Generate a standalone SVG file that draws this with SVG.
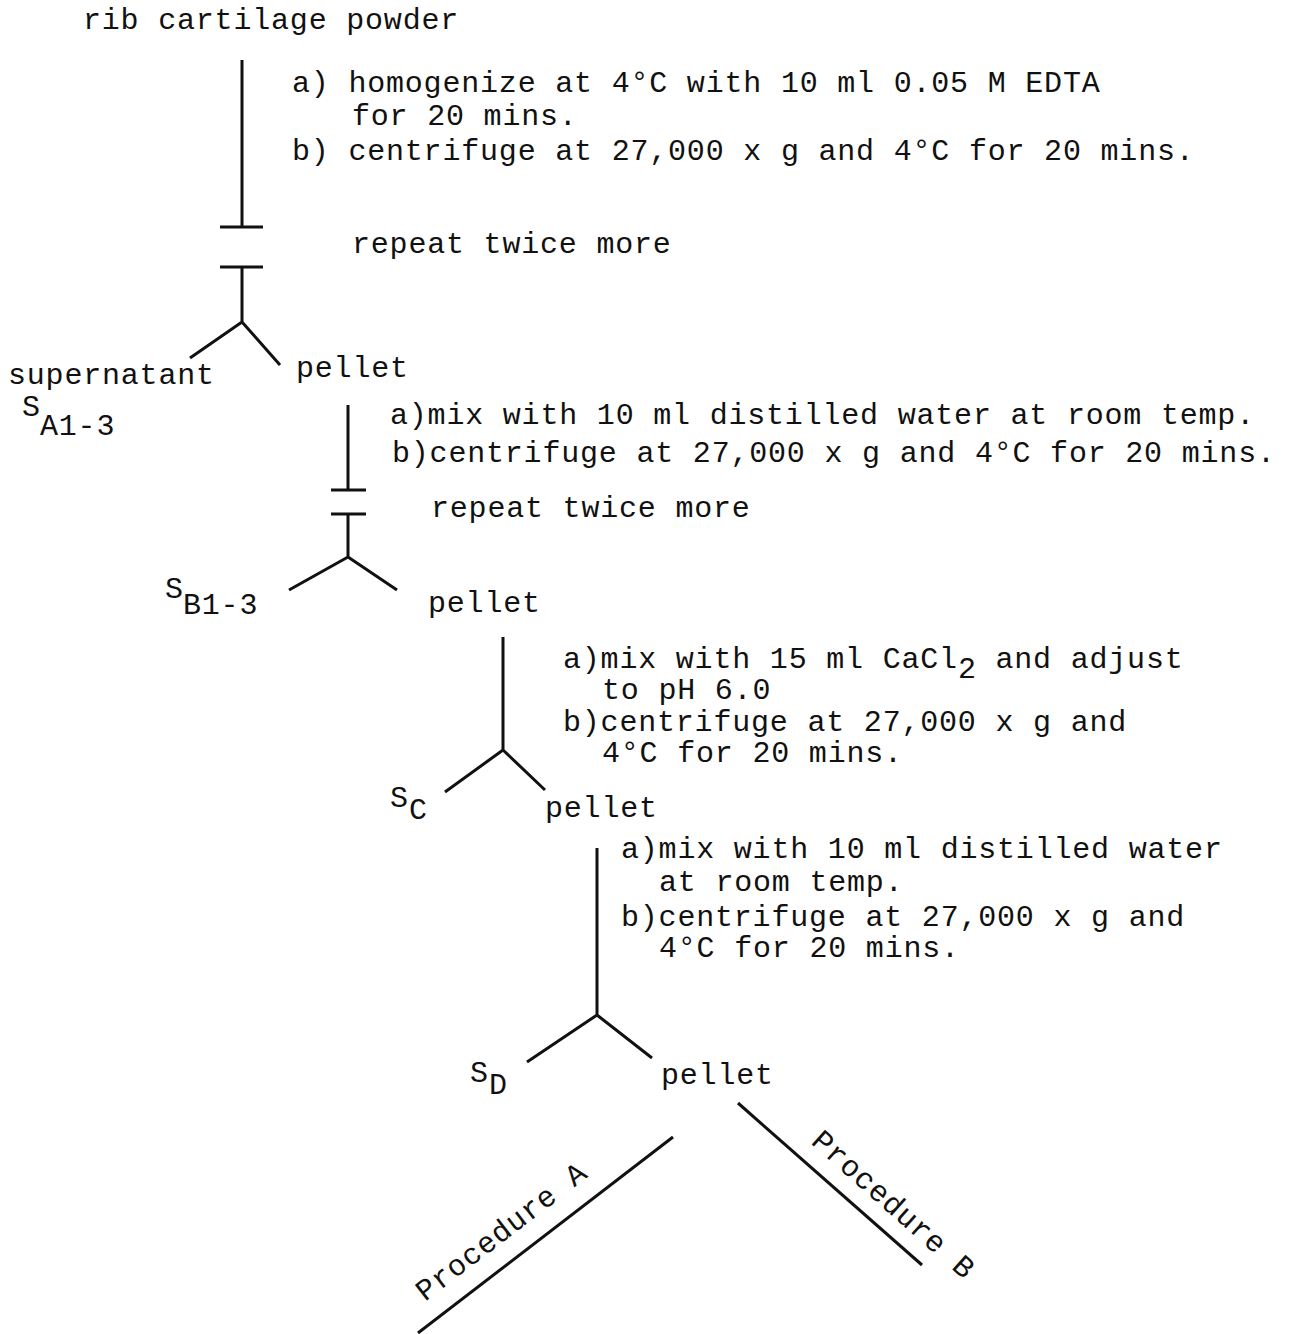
<svg xmlns="http://www.w3.org/2000/svg" width="1295" height="1334" viewBox="0 0 1295 1334">
<style>
text{font-family:"Liberation Mono","DejaVu Sans Mono",monospace;font-size:30px;letter-spacing:0.8px;fill:#111;}
.ln{stroke:#111;stroke-width:3;fill:none;stroke-linecap:butt;}
</style>
<rect width="1295" height="1334" fill="#fff"/>
<g id="connectors">
<path class="ln" d="M242 60V227M220 227H263M220 267H263M242 267V322M242 322L190 358M242 322L280 365"/>
<path class="ln" d="M348 405V490M331 490H366M331 514H366M348 514V557M348 557L289 590M348 557L397 590"/>
<path class="ln" d="M503 637V750M503 750L445 792M503 750L545 790"/>
<path class="ln" d="M597 848V1015M597 1015L527 1062M597 1015L652 1058"/>
<path class="ln" d="M673 1137L418 1333"/>
<path class="ln" d="M738 1103L922 1265"/>
</g>
<g id="n-start"><text x="83" y="29">rib cartilage powder</text></g>
<g id="step1">
<text x="292" y="92">a) homogenize at 4°C with 10 ml 0.05 M EDTA</text>
<text x="352" y="125">for 20 mins.</text>
<text x="292" y="160">b) centrifuge at 27,000 x g and 4°C for 20 mins.</text>
<text x="352" y="253">repeat twice more</text>
</g>
<g id="n-supA"><text x="8" y="384">supernatant</text><text x="22" y="416">S</text><text x="40" y="435">A1-3</text></g>
<g id="n-pellet1"><text x="296" y="377">pellet</text></g>
<g id="step2">
<text x="390" y="424">a)mix with 10 ml distilled water at room temp.</text>
<text x="392" y="462">b)centrifuge at 27,000 x g and 4°C for 20 mins.</text>
<text x="431" y="517">repeat twice more</text>
</g>
<g id="n-supB"><text x="165" y="598">S</text><text x="183" y="614">B1-3</text></g>
<g id="n-pellet2"><text x="428" y="612">pellet</text></g>
<g id="step3">
<text x="563" y="668">a)mix with 15 ml CaCl<tspan dy="10">2</tspan><tspan dy="-10"> and adjust</tspan></text>
<text x="602" y="699">to pH 6.0</text>
<text x="563" y="731">b)centrifuge at 27,000 x g and</text>
<text x="602" y="762">4°C for 20 mins.</text>
</g>
<g id="n-supC"><text x="390" y="807">S</text><text x="409" y="819">C</text></g>
<g id="n-pellet3"><text x="545" y="817">pellet</text></g>
<g id="step4">
<text x="621" y="858">a)mix with 10 ml distilled water</text>
<text x="659" y="891">at room temp.</text>
<text x="621" y="926">b)centrifuge at 27,000 x g and</text>
<text x="659" y="957">4°C for 20 mins.</text>
</g>
<g id="n-supD"><text x="470" y="1082">S</text><text x="489" y="1094">D</text></g>
<g id="n-pellet4"><text x="661" y="1084">pellet</text></g>
<g id="n-procA"><text transform="translate(425 1302) rotate(-37.5)">Procedure A</text></g>
<g id="n-procB"><text transform="translate(810 1143) rotate(41.7)">Procedure B</text></g>
</svg>
